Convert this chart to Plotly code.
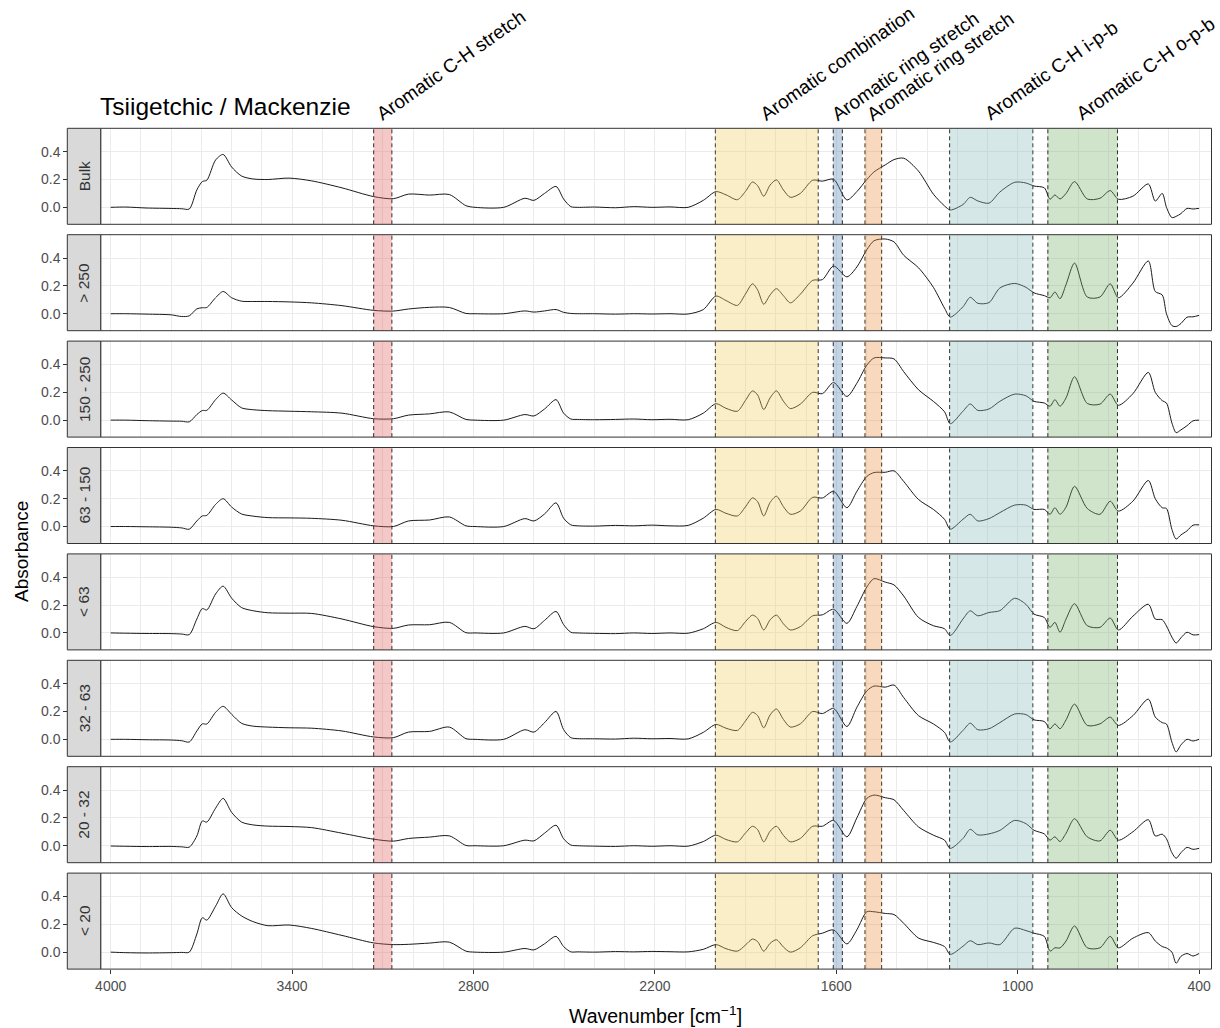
import plotly.graph_objects as go

# ---------------- data ----------------
WAVENUMBER = [
    4000, 3950, 3880, 3800, 3765, 3740, 3715, 3697, 3682, 3653,
    3628, 3600, 3567, 3530, 3480, 3410, 3335, 3235, 3130, 3065,
    3015, 2945, 2880, 2825, 2795, 2700, 2630, 2600, 2565, 2527,
    2502, 2478, 2455, 2400, 2330, 2270, 2210, 2150, 2090, 2040,
    1998, 1965, 1927, 1901, 1877, 1860, 1840, 1819, 1798, 1775,
    1752, 1719, 1678, 1646, 1609, 1565, 1532, 1499, 1475, 1438,
    1409, 1377, 1328, 1279, 1242, 1223, 1181, 1157, 1132, 1095,
    1059, 1010, 973, 946, 912, 893, 877, 860, 840, 812,
    770, 728, 694, 667, 619, 568, 545, 522, 508, 490,
    476, 460, 440, 420, 400,
]

BULK = [
    0.000, 0.002, -0.005, -0.008, -0.010, -0.012, 0.125, 0.185, 0.195, 0.340,
    0.380, 0.290, 0.225, 0.204, 0.200, 0.210, 0.190, 0.140, 0.077, 0.062,
    0.095, 0.088, 0.092, 0.012, 0.000, 0.000, 0.065, 0.050, 0.100, 0.150,
    0.060, 0.005, 0.000, 0.002, -0.003, 0.005, 0.000, 0.003, 0.000, 0.050,
    0.113, 0.090, 0.055, 0.113, 0.182, 0.155, 0.080, 0.160, 0.197, 0.125,
    0.072, 0.100, 0.195, 0.188, 0.202, 0.053, 0.113, 0.200, 0.255, 0.305,
    0.343, 0.353, 0.260, 0.095, 0.010, -0.019, 0.020, 0.072, 0.046, 0.030,
    0.110, 0.180, 0.175, 0.153, 0.140, 0.058, 0.089, 0.060, 0.100, 0.185,
    0.060, 0.065, 0.120, 0.058, 0.080, 0.168, 0.045, 0.100, 0.000, -0.074,
    -0.065, -0.045, -0.008, -0.012, -0.007,
]
GT_250 = [
    0.000, 0.000, -0.003, -0.008, -0.020, -0.015, 0.035, 0.043, 0.045, 0.115,
    0.160, 0.115, 0.090, 0.088, 0.088, 0.085, 0.078, 0.058, 0.024, 0.019,
    0.034, 0.046, 0.045, 0.002, 0.000, 0.000, 0.020, 0.012, 0.020, 0.030,
    0.010, 0.002, 0.000, 0.000, -0.003, 0.000, -0.002, 0.000, -0.002, 0.030,
    0.127, 0.095, 0.060, 0.140, 0.215, 0.170, 0.068, 0.135, 0.180, 0.130,
    0.078, 0.140, 0.240, 0.245, 0.343, 0.265, 0.336, 0.460, 0.525, 0.537,
    0.516, 0.420, 0.330, 0.190, 0.040, -0.024, 0.050, 0.118, 0.075, 0.080,
    0.185, 0.218, 0.190, 0.150, 0.130, 0.115, 0.156, 0.108, 0.210, 0.364,
    0.120, 0.120, 0.215, 0.115, 0.220, 0.379, 0.160, 0.135, 0.000, -0.085,
    -0.092, -0.070, -0.025, -0.022, -0.012,
]
S_150_250 = [
    0.000, 0.000, -0.004, -0.007, -0.008, -0.012, 0.040, 0.069, 0.070, 0.147,
    0.194, 0.145, 0.088, 0.075, 0.068, 0.064, 0.060, 0.050, 0.010, 0.010,
    0.036, 0.045, 0.059, 0.005, 0.000, 0.000, 0.040, 0.030, 0.080, 0.147,
    0.050, 0.008, 0.005, 0.003, 0.005, 0.008, 0.003, 0.006, 0.003, 0.050,
    0.118, 0.085, 0.064, 0.140, 0.210, 0.180, 0.076, 0.160, 0.210, 0.136,
    0.083, 0.115, 0.200, 0.190, 0.270, 0.170, 0.265, 0.395, 0.447, 0.447,
    0.440, 0.348, 0.218, 0.135, 0.060, -0.026, 0.064, 0.116, 0.070, 0.080,
    0.135, 0.187, 0.175, 0.135, 0.123, 0.100, 0.147, 0.100, 0.160, 0.312,
    0.120, 0.115, 0.187, 0.107, 0.190, 0.343, 0.200, 0.140, 0.123, -0.020,
    -0.090, -0.070, -0.040, -0.005, 0.000,
]
S_63_150 = [
    0.000, 0.000, -0.002, -0.005, -0.010, -0.019, 0.040, 0.076, 0.080, 0.159,
    0.200, 0.140, 0.090, 0.075, 0.064, 0.062, 0.059, 0.045, 0.005, 0.000,
    0.040, 0.047, 0.069, 0.005, 0.000, 0.000, 0.057, 0.040, 0.090, 0.170,
    0.060, 0.012, 0.005, 0.003, 0.008, 0.005, 0.010, 0.005, 0.008, 0.060,
    0.123, 0.095, 0.076, 0.140, 0.206, 0.178, 0.076, 0.173, 0.218, 0.143,
    0.088, 0.111, 0.210, 0.205, 0.253, 0.135, 0.253, 0.360, 0.388, 0.390,
    0.400, 0.324, 0.194, 0.123, 0.052, -0.019, 0.052, 0.088, 0.040, 0.057,
    0.100, 0.154, 0.154, 0.123, 0.123, 0.088, 0.135, 0.088, 0.140, 0.289,
    0.130, 0.088, 0.182, 0.111, 0.182, 0.331, 0.200, 0.135, 0.130, -0.020,
    -0.090, -0.060, -0.031, 0.010, 0.012,
]
LT_63 = [
    0.000, -0.002, -0.004, -0.005, -0.008, -0.012, 0.100, 0.175, 0.165, 0.280,
    0.336, 0.250, 0.182, 0.160, 0.145, 0.142, 0.140, 0.100, 0.045, 0.033,
    0.057, 0.059, 0.076, 0.002, 0.000, 0.000, 0.047, 0.030, 0.090, 0.154,
    0.060, 0.005, 0.000, -0.003, -0.005, 0.000, -0.004, 0.000, -0.002, 0.030,
    0.076, 0.040, 0.017, 0.080, 0.128, 0.104, 0.021, 0.094, 0.128, 0.066,
    0.021, 0.045, 0.123, 0.130, 0.170, 0.069, 0.190, 0.330, 0.390, 0.365,
    0.345, 0.265, 0.111, 0.052, 0.030, -0.019, 0.100, 0.159, 0.123, 0.147,
    0.160, 0.249, 0.206, 0.135, 0.111, 0.040, 0.076, 0.005, 0.100, 0.210,
    0.052, 0.040, 0.107, 0.021, 0.120, 0.206, 0.100, 0.095, 0.050, -0.030,
    -0.073, -0.035, 0.005, -0.014, -0.012,
]
S_32_63 = [
    0.000, 0.000, -0.003, -0.005, -0.010, -0.019, 0.060, 0.111, 0.110, 0.194,
    0.237, 0.180, 0.115, 0.095, 0.088, 0.083, 0.080, 0.060, 0.017, 0.012,
    0.052, 0.057, 0.088, 0.005, 0.000, 0.000, 0.069, 0.052, 0.120, 0.200,
    0.070, 0.012, 0.005, 0.004, 0.002, 0.008, 0.004, 0.006, 0.003, 0.050,
    0.107, 0.080, 0.064, 0.130, 0.194, 0.170, 0.083, 0.175, 0.218, 0.143,
    0.088, 0.111, 0.200, 0.185, 0.222, 0.092, 0.230, 0.348, 0.383, 0.375,
    0.390, 0.300, 0.170, 0.111, 0.050, -0.019, 0.064, 0.116, 0.069, 0.076,
    0.120, 0.182, 0.178, 0.140, 0.128, 0.076, 0.111, 0.076, 0.140, 0.253,
    0.100, 0.111, 0.159, 0.100, 0.170, 0.289, 0.160, 0.120, 0.110, -0.020,
    -0.090, -0.040, 0.000, -0.012, 0.000,
]
S_20_32 = [
    -0.002, -0.004, -0.006, -0.005, -0.008, -0.010, 0.070, 0.178, 0.170, 0.270,
    0.340, 0.240, 0.170, 0.150, 0.141, 0.138, 0.130, 0.090, 0.047, 0.033,
    0.052, 0.062, 0.071, 0.002, 0.000, 0.000, 0.040, 0.035, 0.090, 0.147,
    0.050, 0.005, 0.000, -0.003, -0.005, 0.000, -0.004, 0.000, -0.003, 0.030,
    0.076, 0.045, 0.028, 0.090, 0.140, 0.115, 0.028, 0.104, 0.140, 0.075,
    0.028, 0.052, 0.140, 0.140, 0.182, 0.064, 0.200, 0.340, 0.364, 0.345,
    0.330, 0.253, 0.135, 0.076, 0.040, -0.019, 0.052, 0.118, 0.078, 0.085,
    0.110, 0.182, 0.159, 0.111, 0.085, 0.040, 0.064, 0.030, 0.090, 0.194,
    0.064, 0.035, 0.111, 0.040, 0.100, 0.187, 0.070, 0.083, 0.050, -0.050,
    -0.090, -0.050, -0.012, -0.026, -0.019,
]
LT_20 = [
    0.000, -0.004, -0.006, -0.004, -0.002, 0.000, 0.130, 0.247, 0.230, 0.330,
    0.419, 0.320, 0.260, 0.220, 0.190, 0.195, 0.170, 0.120, 0.066, 0.054,
    0.056, 0.065, 0.072, 0.007, 0.000, 0.000, 0.026, 0.016, 0.060, 0.113,
    0.040, 0.002, 0.002, 0.000, 0.004, 0.002, 0.005, 0.003, 0.002, 0.020,
    0.054, 0.025, 0.007, 0.050, 0.094, 0.075, 0.007, 0.063, 0.089, 0.037,
    0.000, 0.031, 0.118, 0.136, 0.160, 0.059, 0.160, 0.290, 0.290, 0.278,
    0.270, 0.207, 0.101, 0.070, 0.040, -0.016, 0.042, 0.082, 0.054, 0.066,
    0.054, 0.172, 0.155, 0.136, 0.113, 0.007, 0.031, 0.030, 0.080, 0.188,
    0.031, 0.031, 0.113, 0.031, 0.100, 0.140, 0.080, 0.040, 0.030, 0.000,
    -0.080, -0.030, -0.010, -0.028, -0.010,
]

SAMPLE_LABELS = ["Bulk", "> 250", "150 - 250", "63 - 150", "< 63", "32 - 63", "20 - 32", "< 20"]
SPECTRA = [BULK, GT_250, S_150_250, S_63_150, LT_63, S_32_63, S_20_32, LT_20]

BAND_HIGH = [3130, 2000, 1610, 1505, 1225, 900]
BAND_LOW = [3070, 1660, 1580, 1450, 950, 670]
BAND_LABELS = ["Aromatic C-H stretch", "Aromatic combination", "Aromatic ring stretch",
               "Aromatic ring stretch", "Aromatic C-H i-p-b", "Aromatic C-H o-p-b"]
BAND_COLORS = ["rgba(226,98,98,0.35)", "rgba(241,206,98,0.35)", "rgba(89,132,178,0.35)",
               "rgba(238,146,69,0.35)", "rgba(135,186,186,0.35)", "rgba(118,178,104,0.35)"]

X_TICKS = [4000, 3400, 2800, 2200, 1600, 1000, 400]
Y_TICKS = [0.0, 0.2, 0.4]

TITLE = "Tsiigetchic / Mackenzie"

for s in SPECTRA:
    assert len(s) == len(WAVENUMBER)

# ---------------- layout geometry (pixels) ----------------
W, H = 1220, 1028
FONT = "Liberation Sans, Arial, sans-serif"
PANEL_LEFT, PANEL_RIGHT = 100.7, 1211.5
STRIP_LEFT = 67.3
PANEL_TOP0, PANEL_PITCH, PANEL_H = 128.3, 106.4, 96.0
X_RANGE = [4033, 359]
Y_RANGE = [-0.122, 0.568]


def px(p):
    return p / W


def py(p):
    return 1 - p / H


fig = go.Figure()
layout = dict(
    width=W, height=H,
    margin=dict(l=0, r=0, t=0, b=0),
    paper_bgcolor="white", plot_bgcolor="white",
    showlegend=False,
    font=dict(family=FONT, color="#000000"),
)
shapes = []
annotations = []

n = len(SPECTRA)
for i, (label, spec) in enumerate(zip(SAMPLE_LABELS, SPECTRA)):
    sfx = "" if i == 0 else str(i + 1)
    top = PANEL_TOP0 + i * PANEL_PITCH
    bot = top + PANEL_H
    last = i == n - 1

    fig.add_trace(go.Scatter(
        x=WAVENUMBER, y=spec, mode="lines",
        line=dict(color="#1a1a1a", width=1, shape="spline", smoothing=0.8),
        xaxis="x" + sfx, yaxis="y" + sfx, hoverinfo="skip",
    ))

    layout["xaxis" + sfx] = dict(
        domain=[px(PANEL_LEFT), px(PANEL_RIGHT)],
        anchor="y" + sfx,
        range=X_RANGE,
        tickmode="array", tickvals=X_TICKS, ticktext=[str(v) for v in X_TICKS],
        showgrid=True, gridcolor="#EBEBEB", gridwidth=1,
        minor=dict(dtick=100, tick0=400, showgrid=True, gridcolor="#EBEBEB", gridwidth=0.7),
        zeroline=False, showline=False,
        ticks="outside" if last else "", ticklen=4, tickcolor="#333333",
        showticklabels=last,
        tickfont=dict(size=14, color="#4D4D4D", family=FONT),
        automargin=False,
    )
    layout["yaxis" + sfx] = dict(
        domain=[py(bot), py(top)],
        anchor="free", position=px(STRIP_LEFT),
        range=Y_RANGE,
        tickmode="array", tickvals=Y_TICKS, ticktext=["%.1f" % v for v in Y_TICKS],
        showgrid=True, gridcolor="#EBEBEB", gridwidth=1,
        zeroline=False, showline=False,
        ticks="outside", ticklen=4, tickcolor="#333333",
        tickfont=dict(size=14, color="#4D4D4D", family=FONT),
        automargin=False,
    )

    # dashed band edges
    for lo, hi in zip(BAND_LOW, BAND_HIGH):
        for xv in (lo, hi):
            shapes.append(dict(
                type="line", xref="x" + sfx, yref="y" + sfx + " domain",
                x0=xv, x1=xv, y0=0, y1=1, layer="above",
                line=dict(color="#1a1a1a", width=1, dash="4px,3px"),
            ))
    # translucent bands on top
    for lo, hi, col in zip(BAND_LOW, BAND_HIGH, BAND_COLORS):
        shapes.append(dict(
            type="rect", xref="x" + sfx, yref="y" + sfx + " domain",
            x0=hi, x1=lo, y0=0, y1=1, layer="above",
            fillcolor=col, line=dict(width=0),
        ))
    # panel border
    shapes.append(dict(
        type="rect", xref="x" + sfx + " domain", yref="y" + sfx + " domain",
        x0=0, x1=1, y0=0, y1=1, layer="above",
        fillcolor="rgba(0,0,0,0)", line=dict(color="#333333", width=1),
    ))
    # strip
    shapes.append(dict(
        type="rect", xref="paper", yref="y" + sfx + " domain",
        x0=px(STRIP_LEFT), x1=px(PANEL_LEFT), y0=0, y1=1, layer="above",
        fillcolor="#D9D9D9", line=dict(color="#333333", width=1),
    ))
    annotations.append(dict(
        text=label, xref="paper", yref="y" + sfx + " domain",
        x=px((STRIP_LEFT + PANEL_LEFT) / 2), y=0.5, showarrow=False,
        textangle=-90, xanchor="center", yanchor="middle",
        font=dict(size=15.5, color="#333333", family=FONT),
    ))

# band labels above the first panel
for lo, hi, txt in zip(BAND_LOW, BAND_HIGH, BAND_LABELS):
    annotations.append(dict(
        text=txt, xref="x", yref="paper",
        x=(lo + hi) / 2, y=py(PANEL_TOP0 - 1), showarrow=False,
        textangle=-35, xanchor="left", yanchor="bottom", xshift=-13,
        font=dict(size=19, color="#000000", family=FONT),
    ))

# title and axis titles
annotations.append(dict(
    text=TITLE, xref="paper", yref="paper", x=px(98), y=py(107),
    xanchor="left", yanchor="middle", showarrow=False,
    font=dict(size=24.5, color="#000000", family=FONT),
))
annotations.append(dict(
    text="Absorbance", xref="paper", yref="paper", x=px(21), y=py(552),
    xanchor="center", yanchor="middle", textangle=-90, showarrow=False,
    font=dict(size=19, color="#000000", family=FONT),
))
annotations.append(dict(
    text="Wavenumber [cm<sup>\u22121</sup>]", xref="paper", yref="paper",
    x=px(655), y=py(1015), xanchor="center", yanchor="middle", showarrow=False,
    font=dict(size=19.5, color="#000000", family=FONT),
))

layout["shapes"] = shapes
layout["annotations"] = annotations
fig.update_layout(**layout)
fig.write_html("out.html")
